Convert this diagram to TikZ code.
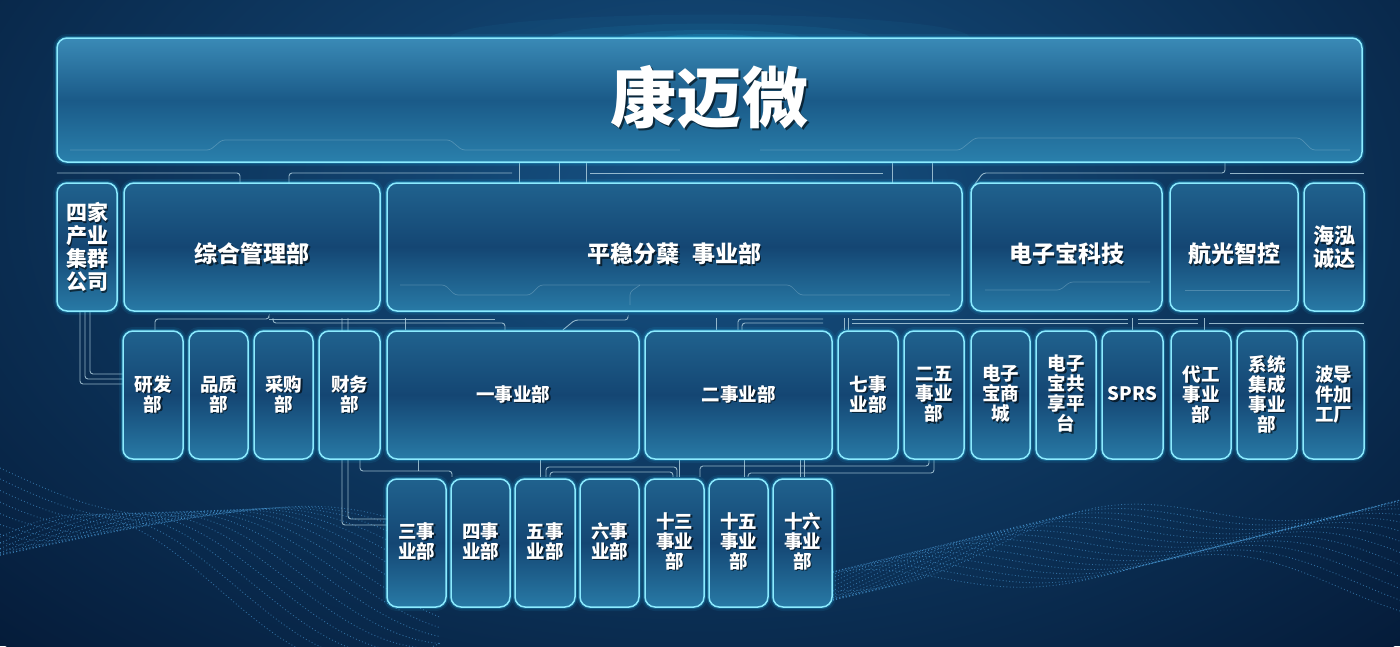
\documentclass[tikz,border=0pt]{standalone}
\usepackage{fontspec}
\newfontfamily\cjk{Noto Sans CJK SC}
\definecolor{bgdark}{RGB}{5,28,58}
\definecolor{bglight}{RGB}{22,82,132}
\definecolor{boxtop}{RGB}{32,98,142}
\definecolor{boxmid}{RGB}{20,70,115}
\definecolor{boxbot}{RGB}{40,122,166}
\definecolor{roottop}{RGB}{58,138,182}
\definecolor{rootmid}{RGB}{26,90,136}
\definecolor{rootbot}{RGB}{42,128,172}
\definecolor{edgec}{RGB}{140,235,255}
\definecolor{glowc}{RGB}{40,190,240}
\definecolor{linec}{RGB}{180,212,226}
\definecolor{wavec}{RGB}{85,175,240}
\pgfdeclarelayer{back}\pgfdeclarelayer{bg}\pgfsetlayers{back,bg,main}
\tikzset{
  boxshade/.style={top color=boxtop, bottom color=boxbot, middle color=boxmid},
  rootshade/.style={top color=roottop, bottom color=rootbot, middle color=rootmid},
  lbl/.style={text=white, align=center, inner sep=0pt},
  conn/.style={draw=linec, line width=0.9pt, opacity=0.8, rounded corners=3pt},
  deco/.style={draw=linec, line width=0.7pt, opacity=0.3, rounded corners=3pt},
  wavedots/.style={draw=wavec, line width=0.9pt, opacity=0.5, dash pattern=on 0.9pt off 2.4pt},
}
\def\toff{0}
\newcommand\gbox[9]{%
  \draw[draw=glowc, line width=8pt, opacity=0.09, rounded corners=10pt] (#3,#4) rectangle (#5,#6);
  \draw[draw=glowc, line width=4pt, opacity=0.25, rounded corners=10pt] (#3,#4) rectangle (#5,#6);
  \shade[#1, rounded corners=10pt] (#3,#4) rectangle (#5,#6);
  \draw[draw=edgec, line width=1.5pt, rounded corners=10pt] (#3,#4) rectangle (#5,#6);
  \node[lbl, text=black, text opacity=0.6, font=\cjk\bfseries\fontsize{#7}{#8}\selectfont] at ({(#3+#5)/2+1.5},{(#4+#6)/2+1.8+\toff}) {#9};
  \node[lbl, font=\cjk\bfseries\fontsize{#7}{#8}\selectfont, minimum width={(#5-#3)*1pt}, minimum height={(#6-#4)*1pt}, yshift={-\toff*1pt}] (#2) at ({(#3+#5)/2},{(#4+#6)/2}) {#9};
}
\begin{document}
\begin{tikzpicture}[x=1pt,y=-1pt]
\useasboundingbox (0,0) rectangle (1400,646);
\begin{pgfonlayer}{back}
% background
\fill[bgdark] (0,0) rectangle (1400,646);
\shade[inner color=bglight, outer color=bgdark] (700,200) ellipse (1000 and 620);
% waves
\foreach \k in {0,...,15}{
  \draw[wavedots] plot[domain=0:440, samples=60, smooth]
    (\x,{468 + 0.18*\x + (22+\k*2)*sin(\x*0.75 + \k*13) + \k*5.5});
  \draw[wavedots] plot[domain=820:1400, samples=80, smooth]
    (\x,{585 - 85*sin((\x-820)*0.16 + \k*3) + 18*sin(\x*0.9 + \k*16) + \k*4.5});
}
% flare
\foreach \r/\o in {260/0.05,160/0.07,90/0.1,45/0.15}{
  \fill[glowc, opacity=\o] (710,38) ellipse (\r pt and 0.09*\r pt);
}
\end{pgfonlayer}
% coordinates for connectors
\path (519,0) coordinate (v1) (559,0) coordinate (v2) (586,0) coordinate (v3)
      (892,0) coordinate (v4) (932,0) coordinate (v5)
      (240,173) coordinate (ta) (289,173) coordinate (tb) (512,173) coordinate (tc)
      (590,173) coordinate (td) (883,173) coordinate (te)
      (983,173) coordinate (tf) (1225,173) coordinate (tg)
      (1230,173) coordinate (th);
\path (80,384) coordinate (m1) (85,379) coordinate (m2) (90,374) coordinate (m3)
      (155,319) coordinate (b1) (269,319) coordinate (b2) (273,0) coordinate (b4) (505,323) coordinate (b5)
      (495,319) coordinate (b6)
      (342,525) coordinate (c1) (348,519) coordinate (c2)
      (405,0) coordinate (d1)
      (563,0) coordinate (e1) (575,320) coordinate (e2) (628,320) coordinate (e3)
      (716,0) coordinate (f1)
      (738,0) coordinate (g1) (823,319) coordinate (g2) (742,0) coordinate (g3) (823,323) coordinate (g4)
      (844,0) coordinate (k1) (848,0) coordinate (k2)
      (852,319) coordinate (n1) (1128,319) coordinate (n2) (852,323) coordinate (n3) (1128,323) coordinate (n4)
      (1132,0) coordinate (sp)
      (1138,319) coordinate (o1) (1198,319) coordinate (o2) (1138,323) coordinate (o3) (1198,323) coordinate (o4)
      (1204,0) coordinate (dg1) (1209,323) coordinate (o5);
\path (360,0) coordinate (p1) (452,471) coordinate (p2) (418,471) coordinate (p3)
      (540,0) coordinate (q1) (546,0) coordinate (r1) (677,467) coordinate (r2)
      (550,0) coordinate (r3) (673,472) coordinate (r4)
      (679,0) coordinate (q2) (700,0) coordinate (u1) (929,466) coordinate (u2)
      (744,0) coordinate (w1) (748,0) coordinate (w3) (934,473) coordinate (w4)
      (800,0) coordinate (z1) (804,0) coordinate (z2);
% row 1
\def\toff{-3}
\gbox{rootshade}{root}{57}{38}{1362}{162}{66}{68}{康迈微}
% row 2
\def\toff{0}
\gbox{boxshade}{sj}{57}{183}{117}{311}{21}{23}{四家\\产业\\集群\\公司}
\gbox{boxshade}{hh}{1304}{183}{1364}{311}{21}{23}{海泓\\诚达}
\def\toff{7}
\gbox{boxshade}{zh}{124}{183}{380}{311}{23}{24}{综合管理部}
\gbox{boxshade}{pw}{387}{183}{962}{311}{23}{24}{平稳分蘖\hspace{0.55em}事业部}
\gbox{boxshade}{dz}{971}{183}{1162}{311}{23}{24}{电子宝科技}
\gbox{boxshade}{hg}{1170}{183}{1298}{311}{23}{24}{航光智控}
% row 3
\def\toff{-1}
\gbox{boxshade}{yf}{123}{331}{183}{459}{18.5}{20}{研发\\部}
\gbox{boxshade}{pz}{189}{331}{248}{459}{18.5}{20}{品质\\部}
\gbox{boxshade}{cg}{254}{331}{313}{459}{18.5}{20}{采购\\部}
\gbox{boxshade}{cw}{319}{331}{380}{459}{18.5}{20}{财务\\部}
\gbox{boxshade}{y1}{387}{331}{639}{459}{18.5}{20}{一事业部}
\gbox{boxshade}{y2}{645}{331}{832}{459}{18.5}{20}{二事业部}
\gbox{boxshade}{q7}{838}{331}{898}{459}{18.5}{20}{七事\\业部}
\gbox{boxshade}{e25}{904}{331}{964}{459}{18.5}{20}{二五\\事业\\部}
\gbox{boxshade}{sc}{971}{331}{1030}{459}{18.5}{20}{电子\\宝商\\城}
\gbox{boxshade}{gx}{1036}{331}{1096}{459}{18.5}{20}{电子\\宝共\\享平\\台}
\gbox{boxshade}{sprs}{1102}{331}{1163}{459}{18.5}{20}{SPRS}
\gbox{boxshade}{dg}{1171}{331}{1231}{459}{18.5}{20}{代工\\事业\\部}
\gbox{boxshade}{xt}{1237}{331}{1297}{459}{18.5}{20}{系统\\集成\\事业\\部}
\gbox{boxshade}{bd}{1303}{331}{1364}{459}{18.5}{20}{波导\\件加\\工厂}
% row 4
\def\toff{-2}
\gbox{boxshade}{s3}{387}{479}{446}{607}{18.5}{20}{三事\\业部}
\gbox{boxshade}{s4}{451}{479}{510}{607}{18.5}{20}{四事\\业部}
\gbox{boxshade}{s5}{515}{479}{575}{607}{18.5}{20}{五事\\业部}
\gbox{boxshade}{s6}{580}{479}{639}{607}{18.5}{20}{六事\\业部}
\gbox{boxshade}{s13}{645}{479}{704}{607}{18.5}{20}{十三\\事业\\部}
\gbox{boxshade}{s15}{709}{479}{768}{607}{18.5}{20}{十五\\事业\\部}
\gbox{boxshade}{s16}{773}{479}{832}{607}{18.5}{20}{十六\\事业\\部}
% connectors (behind boxes)
\begin{pgfonlayer}{bg}
% top gap
\draw[conn] (sj.north west |- ta) -- (ta) -- (zh.north -| ta);
\draw[conn] (zh.north -| tb) -- (tb) -- (tc);
\foreach \v in {v1,v2,v3,v4,v5} \draw[conn] (root.south -| \v) -- (pw.north -| \v);
\draw[conn] (td) -- (te);
\draw[conn] (dz.north west) -- (tf) -- (tg) -- (root.south -| tg);
\draw[conn] (th) -- (hh.north east |- th);
% middle gap
\foreach \m in {m1,m2,m3} \draw[conn] (sj.south -| \m) -- (\m) -- (yf.west |- \m);
\draw[conn] (yf.north -| b1) -- (b1) -- (b2) -- (zh.south -| b2);
\draw[conn] (b2) -- (b6);
\draw[conn] (zh.south -| b4) |- (b5) -- (y1.north -| b5);
\draw[conn] (zh.south -| c1) -- (c1) -- (s3.west |- c1);
\draw[conn] (zh.south -| c2) -- (c2) -- (s3.west |- c2);
\draw[conn] (pw.south -| d1) -- (y1.north -| d1);
\draw[conn] (y1.north -| e1) -- (e2) -- (e3) -- (pw.south -| e3);
\draw[conn] (pw.south -| f1) -- (y2.north -| f1);
\draw[conn] (y2.north -| g1) |- (g2);
\draw[conn] (y2.north -| g3) |- (g4);
\draw[conn] (pw.south -| k1) -- (q7.north -| k1);
\draw[conn] (pw.south -| k2) -- (q7.north -| k2);
\draw[conn] (n1) -- (n2);
\draw[conn] (n3) -- (n4);
\draw[conn] (dz.south -| sp) -- (sprs.north -| sp);
\draw[conn] (o1) -- (o2);
\draw[conn] (o3) -- (o4);
\draw[conn] (hg.south -| dg1) -- (dg.north -| dg1);
\draw[conn] (o5) -- (bd.north east |- o5);
% bottom gap
\draw[conn] (y1.south -| p1) |- (p2) -- (s4.north -| p2);
\draw[conn] (y1.south -| p3) -- (p3);
\draw[conn] (y1.south -| q1) -- (s5.north -| q1);
\draw[conn] (s5.north -| r1) |- (r2) -- (s13.north -| r2);
\draw[conn] (s5.north -| r3) |- (r4) -- (s13.north -| r4);
\draw[conn] (y2.south -| q2) -- (s13.north -| q2);
\draw[conn] (s13.north -| u1) |- (u2) -- (e25.south -| u2);
\draw[conn] (y2.south -| w1) -- (s15.north -| w1);
\draw[conn] (s15.north -| w3) |- (w4) -- (e25.south -| w4);
\draw[conn] (y2.south -| z1) -- (s16.north -| z1);
\draw[conn] (y2.south -| z2) -- (s16.north -| z2);
\end{pgfonlayer}
% faint circuit traces inside big boxes
\draw[deco] (70,150) -- (210,150) -- (222,140) -- (450,140) -- (462,150) -- (680,150);
\draw[deco] (760,150) -- (960,150) -- (975,138) -- (1300,138) -- (1312,150) -- (1350,150);
\draw[deco] (400,285) -- (445,285) -- (455,295) -- (530,295) -- (540,285) -- (790,285) -- (800,295) -- (950,295);
\draw[deco] (630,305) -- (630,292) -- (640,285);
\draw[deco] (985,290) -- (1060,290) -- (1070,282) -- (1150,282);
\draw[deco] (1185,290) -- (1290,290);
\end{tikzpicture}
\end{document}
